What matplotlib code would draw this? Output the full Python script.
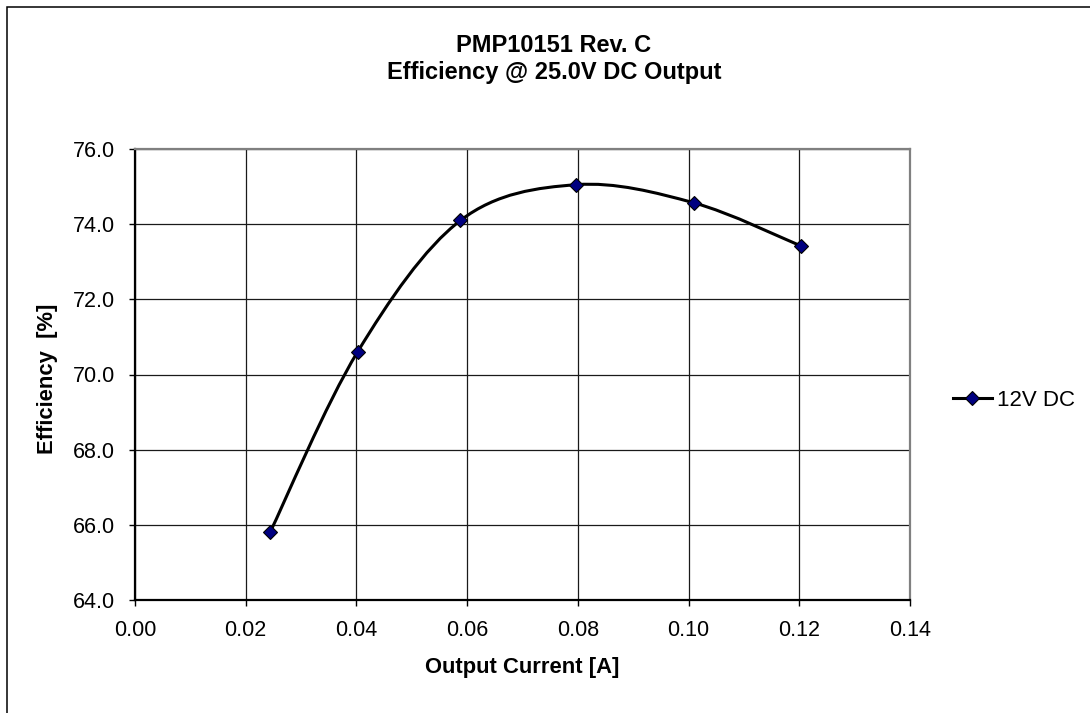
import numpy as np
import matplotlib
matplotlib.use("Agg")
import matplotlib.pyplot as plt
from matplotlib.path import Path
from matplotlib.patches import PathPatch, Rectangle
from matplotlib.ticker import FormatStrFormatter, MultipleLocator

plt.rcParams['font.family'] = ['Liberation Sans', 'DejaVu Sans']

# --- data ---
current_a = [0.0244, 0.0402, 0.0588, 0.0797, 0.1009, 0.1203]
efficiency_pct = [65.8, 70.6, 74.1, 75.05, 74.57, 73.42]
series_name = "12V DC"
title_lines = ["PMP10151 Rev. C", "Efficiency @ 25.0V DC Output"]
x_label = "Output Current [A]"
y_label = "Efficiency  [%]"


def excel_smooth_path(xs, ys):
    # Excel style smoothed line: cubic bezier, tangent = (next - prev) / 6
    pts = np.column_stack([xs, ys]).astype(float)
    n = len(pts)
    verts = [pts[0]]
    codes = [Path.MOVETO]
    for i in range(n - 1):
        p0 = pts[i - 1] if i > 0 else pts[i]
        p1 = pts[i]
        p2 = pts[i + 1]
        p3 = pts[i + 2] if i + 2 < n else pts[i + 1]
        verts += [p1 + (p2 - p0) / 6, p2 - (p3 - p1) / 6, p2]
        codes += [Path.CURVE4] * 3
    return Path(verts, codes)


W, H = 1090, 713
fig = plt.figure(figsize=(W / 100, H / 100), dpi=100)
ax = fig.add_axes([135 / W, (H - 600) / H, 775 / W, 451 / H])

# outer chart border (clipped on right / bottom like the original)
fig.add_artist(Rectangle((6.5 / W, -0.2), 1.5, 1.2 - 6.5 / H + 0.0,
                         transform=fig.transFigure, fill=False,
                         edgecolor='black', lw=1.1))

ax.add_patch(PathPatch(excel_smooth_path(current_a, efficiency_pct),
                       facecolor='none', edgecolor='black', lw=2.2,
                       zorder=3))
ax.plot(current_a, efficiency_pct, linestyle='none', marker='D', ms=7,
        mfc='#000080', mec='black', mew=0.8, zorder=4)

ax.set_xlim(0, 0.14)
ax.set_ylim(64, 76)
ax.xaxis.set_major_locator(MultipleLocator(0.02))
ax.yaxis.set_major_locator(MultipleLocator(2))
ax.xaxis.set_major_formatter(FormatStrFormatter('%.2f'))
ax.yaxis.set_major_formatter(FormatStrFormatter('%.1f'))
ax.grid(True, color='#1a1a1a', lw=0.9)
ax.set_axisbelow(True)

for side in ['left', 'bottom']:
    ax.spines[side].set_color('black')
    ax.spines[side].set_linewidth(1.6)
for side in ['top', 'right']:
    ax.spines[side].set_color('#808080')
    ax.spines[side].set_linewidth(1.6)

ax.tick_params(axis='both', direction='out', length=4.3, width=1.0,
               color='black', labelsize=15.5, pad=10)

ax.set_xlabel(x_label, fontsize=15.8, fontweight='bold', va='center')
ax.xaxis.set_label_coords(0.5, (600 - 668) / 451)
ax.set_ylabel(y_label, fontsize=15.8, fontweight='bold', va='center')
ax.yaxis.set_label_coords((48 - 135) / 775, 0.49)

fig.text(554 / W, 1 - 59 / H, "\n".join(title_lines), ha='center',
         va='center', fontsize=17, fontweight='bold', linespacing=1.2)

handle, = ax.plot([], [], color='black', lw=2.2, marker='D', ms=7,
                  mfc='#000080', mec='black', mew=0.8)
ax.legend([handle], [series_name], loc='center left',
          bbox_to_anchor=(953 / W, 1 - 400 / H),
          bbox_transform=fig.transFigure, frameon=False, borderpad=0,
          borderaxespad=0, handlelength=1.75, handletextpad=0.25,
          numpoints=1, fontsize=16)

fig.savefig("out.png", dpi=100)
